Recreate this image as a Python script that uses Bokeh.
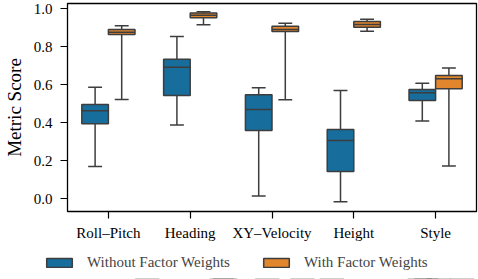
from bokeh.plotting import figure
from bokeh.layouts import column
from bokeh.models import ColumnDataSource, FactorRange, Range1d, Legend, LegendItem, FixedTicker, NumeralTickFormatter
from bokeh.transform import dodge
from bokeh.embed import file_html
from bokeh.resources import INLINE

categories = ["Roll\u2013Pitch", "Heading", "XY\u2013Velocity", "Height", "Style"]
series = ["Without Factor Weights", "With Factor Weights"]

# Without factor weights
wo_whislo = [0.170, 0.389, 0.014, -0.016, 0.410]
wo_q1 = [0.395, 0.544, 0.359, 0.144, 0.517]
wo_med = [0.463, 0.693, 0.470, 0.307, 0.558]
wo_q3 = [0.496, 0.735, 0.547, 0.365, 0.575]
wo_whishi = [0.587, 0.854, 0.584, 0.570, 0.608]

# With factor weights
w_whislo = [0.523, 0.916, 0.521, 0.882, 0.172]
w_q1 = [0.865, 0.953, 0.881, 0.903, 0.579]
w_med = [0.877, 0.966, 0.891, 0.917, 0.632]
w_q3 = [0.891, 0.978, 0.908, 0.933, 0.649]
w_whishi = [0.911, 0.985, 0.924, 0.945, 0.689]

y_ticks = [0.0, 0.2, 0.4, 0.6, 0.8, 1.0]

colors = ["#176d9c", "#e2862d"]
edge = "#3d3d3d"
FONT = "Liberation Serif"

p = figure(width=478, height=245, x_range=FactorRange(factors=categories, range_padding=0),
           y_range=Range1d(-0.067, 1.028), output_backend="svg", toolbar_location=None,
           min_border_left=67, min_border_right=2, min_border_top=3, min_border_bottom=34)
p.frame_align = False
p.xgrid.grid_line_color = None
p.ygrid.grid_line_color = None
p.outline_line_color = "black"
p.outline_line_width = 1.3
p.background_fill_color = "white"
p.border_fill_color = "white"

box_w = 0.325
offs = [-0.1625, 0.1625]
cap = 0.085
data = [
    (wo_whislo, wo_q1, wo_med, wo_q3, wo_whishi),
    (w_whislo, w_q1, w_med, w_q3, w_whishi),
]
for i, (lo, q1, med, q3, hi) in enumerate(data):
    src = ColumnDataSource(dict(cat=categories, lo=lo, q1=q1, med=med, q3=q3, hi=hi))
    o = offs[i]
    xr = p.x_range
    p.segment(x0=dodge("cat", o, range=xr), x1=dodge("cat", o, range=xr), y0="q3", y1="hi",
              source=src, line_color=edge, line_width=1.5)
    p.segment(x0=dodge("cat", o, range=xr), x1=dodge("cat", o, range=xr), y0="q1", y1="lo",
              source=src, line_color=edge, line_width=1.5)
    p.segment(x0=dodge("cat", o - cap, range=xr), x1=dodge("cat", o + cap, range=xr), y0="hi", y1="hi",
              source=src, line_color=edge, line_width=1.5)
    p.segment(x0=dodge("cat", o - cap, range=xr), x1=dodge("cat", o + cap, range=xr), y0="lo", y1="lo",
              source=src, line_color=edge, line_width=1.5)
    p.vbar(x=dodge("cat", o, range=xr), width=box_w, top="q3", bottom="q1", source=src,
           fill_color=colors[i], line_color=edge, line_width=1.5)
    p.segment(x0=dodge("cat", o - box_w / 2, range=xr), x1=dodge("cat", o + box_w / 2, range=xr),
              y0="med", y1="med", source=src, line_color=edge, line_width=1.5)

p.yaxis.ticker = FixedTicker(ticks=y_ticks)
p.yaxis.formatter = NumeralTickFormatter(format="0.0")
p.yaxis.axis_label = "Metric Score"
for ax in (p.xaxis[0], p.yaxis[0]):
    ax.axis_line_color = None
    ax.major_tick_line_color = "black"
    ax.major_tick_line_width = 1.2
    ax.major_tick_out = 7
    ax.major_tick_in = 0
    ax.minor_tick_line_color = None
    ax.major_label_text_font = FONT
    ax.major_label_text_font_size = "15px"
    ax.major_label_text_color = "black"
    ax.axis_label_text_font = FONT
    ax.axis_label_text_font_size = "19px"
    ax.axis_label_text_font_style = "normal"
    ax.axis_label_text_color = "black"
p.yaxis.major_label_standoff = 8
p.xaxis.major_label_standoff = 6
p.yaxis.axis_label_standoff = 6

# legend strip below the plot; its swatch bars lie outside the strip's visible y range
lg = figure(width=478, height=34, x_range=Range1d(0, 1), y_range=Range1d(2, 3),
            output_backend="svg", toolbar_location=None, x_axis_type=None, y_axis_type=None,
            min_border=0)
lg.frame_align = False
lg.outline_line_color = None
lg.xgrid.grid_line_color = None
lg.ygrid.grid_line_color = None
items = []
for i, name in enumerate(series):
    lo, q1, med, q3, hi = data[i]
    r = lg.vbar(x=med, top=q3, bottom=q1, width=0.05, fill_color=colors[i], line_color=edge, line_width=1.5)
    items.append(LegendItem(label=name, renderers=[r], index=0))
legend = Legend(items=items, orientation="horizontal", location=(43, 8),
                padding=0, margin=0, spacing=30, glyph_width=32, glyph_height=11, label_standoff=12,
                label_text_font=FONT, label_text_font_size="15px", label_height=11,
                border_line_alpha=0, background_fill_alpha=0)
lg.add_layout(legend)

layout = column(p, lg, spacing=0)
open("out.html", "w").write(file_html(layout, INLINE))
